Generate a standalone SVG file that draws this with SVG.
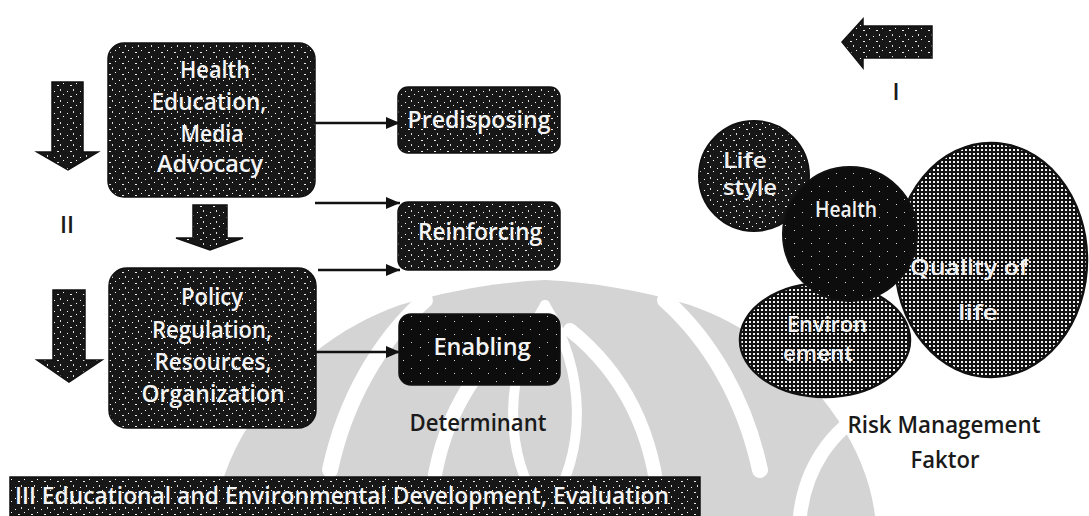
<svg xmlns="http://www.w3.org/2000/svg" width="1089" height="516" viewBox="0 0 1089 516">
<defs>
<pattern id="speck" width="13" height="11" patternUnits="userSpaceOnUse">
<rect width="13" height="11" fill="#171717"/>
<rect x="2" y="3" width="1" height="1" fill="#fff"/>
<rect x="8" y="1" width="1" height="2" fill="#ddd"/>
<rect x="5" y="8" width="2" height="1" fill="#eee"/>
<rect x="11" y="6" width="1" height="1" fill="#fff"/>
</pattern>
<pattern id="speck2" width="17" height="13" patternUnits="userSpaceOnUse">
<rect width="17" height="13" fill="#0d0d0d"/>
<rect x="3" y="4" width="1" height="1" fill="#ccc"/>
<rect x="12" y="9" width="1" height="1" fill="#ddd"/>
</pattern>
<pattern id="grid" width="4" height="4" patternUnits="userSpaceOnUse">
<rect width="4" height="4" fill="#111"/>
<rect x="1" y="1" width="2" height="2" fill="#f2f2f2"/>
</pattern>
<marker id="ah" viewBox="0 0 14 12" refX="14" refY="6" markerWidth="14" markerHeight="12" markerUnits="userSpaceOnUse" orient="auto">
<path d="M0,0 L14,6 L0,12 Z" fill="#111"/>
</marker>
</defs>
<style>
.box{fill:url(#speck);stroke:#111;stroke-width:1.5}
.bt{font-family:"Open Sans","Liberation Sans",sans-serif;font-size:24px;font-weight:600;fill:#f4f4f4;text-anchor:middle}
.ct{font-family:"Open Sans","Liberation Sans",sans-serif;font-size:21px;font-weight:600;fill:#f0f0f0;text-anchor:middle}
.lbl{font-family:"Open Sans","Liberation Sans",sans-serif;font-size:23px;font-weight:600;fill:#1a1a1a;text-anchor:middle}
.conn{stroke:#111;stroke-width:2.5;fill:none;marker-end:url(#ah)}
.wm{fill:none;stroke:#fff;stroke-linecap:round}
</style>
<rect width="1089" height="516" fill="#fff"/>

<g id="watermark">
<path d="M215,516 C225,430 300,340 400,305 C450,290 500,282 545,280 C590,282 640,290 690,305 C790,340 865,430 875,516 Z" fill="#d4d4d4"/>
<path class="wm" stroke-width="16" d="M330,470 C345,400 380,340 425,300"/>
<path class="wm" stroke-width="16" d="M760,470 C745,400 710,340 665,300"/>
<path class="wm" stroke-width="14" d="M430,516 C435,430 470,370 520,330"/>
<path class="wm" stroke-width="14" d="M660,516 C655,430 620,370 570,330"/>
<path class="wm" stroke-width="10" d="M545,305 C505,370 500,450 545,516"/>
<path class="wm" stroke-width="10" d="M545,305 C585,370 590,450 545,516"/>
<path class="wm" stroke-width="14" d="M800,516 C805,470 830,430 870,410"/>
</g>

<g id="arrow-left-1"><polygon points="52,82 83,82 83,152 98,152 68,170 37,152 52,152" class="box"/></g>
<g id="label-II"><text x="67" y="233" class="lbl" font-size="21">II</text></g>
<g id="arrow-left-2"><polygon points="53,290 85,290 85,360 102,360 69,382 37,360 53,360" class="box"/></g>
<g id="arrow-mid"><polygon points="193,205 227,205 227,238 243,238 210,250 176,238 193,238" class="box"/></g>

<g id="node-health-education">
<rect x="108" y="43" width="207" height="154" rx="16" class="box"/>
<text x="215" y="78" class="bt" textLength="70" lengthAdjust="spacingAndGlyphs">Health</text>
<text x="209" y="110" class="bt" textLength="115" lengthAdjust="spacingAndGlyphs">Education,</text>
<text x="212" y="142" class="bt" textLength="63" lengthAdjust="spacingAndGlyphs">Media</text>
<text x="210" y="172" class="bt" textLength="106" lengthAdjust="spacingAndGlyphs">Advocacy</text>
</g>

<g id="node-policy">
<rect x="109" y="268" width="207" height="160" rx="18" class="box"/>
<text x="212" y="305" class="bt" textLength="62" lengthAdjust="spacingAndGlyphs">Policy</text>
<text x="212" y="338" class="bt" textLength="120" lengthAdjust="spacingAndGlyphs">Regulation,</text>
<text x="213" y="370" class="bt" textLength="117" lengthAdjust="spacingAndGlyphs">Resources,</text>
<text x="213" y="402" class="bt" textLength="143" lengthAdjust="spacingAndGlyphs">Organization</text>
</g>

<g id="node-predisposing">
<rect x="398" y="87" width="162" height="66" rx="10" class="box"/>
<text x="479" y="128" class="bt" textLength="143" lengthAdjust="spacingAndGlyphs">Predisposing</text>
</g>
<g id="node-reinforcing">
<rect x="398" y="202" width="162" height="68" rx="10" class="box"/>
<text x="480" y="240" class="bt" textLength="124" lengthAdjust="spacingAndGlyphs">Reinforcing</text>
</g>
<g id="node-enabling">
<rect x="399" y="314" width="161" height="71" rx="12" fill="url(#speck2)" stroke="#111" stroke-width="1.5"/>
<text x="482" y="355" class="bt" textLength="97" lengthAdjust="spacingAndGlyphs">Enabling</text>
</g>
<g id="label-determinant"><text x="478" y="431" class="lbl" textLength="137" lengthAdjust="spacingAndGlyphs">Determinant</text></g>

<g id="connectors">
<line x1="315" y1="123" x2="400" y2="123" class="conn"/>
<line x1="315" y1="203" x2="400" y2="203" class="conn"/>
<line x1="318" y1="270" x2="400" y2="270" class="conn"/>
<line x1="316" y1="352" x2="400" y2="352" class="conn"/>
</g>

<g id="node-banner">
<rect x="10" y="477" width="690" height="39" class="box"/>
<text x="15" y="504" class="bt" style="text-anchor:start" font-size="23" textLength="654" lengthAdjust="spacingAndGlyphs">III Educational and Environmental Development, Evaluation</text>
</g>

<g id="arrow-right"><polygon points="932,26 863,26 863,19 842,42 863,68 863,58 932,58" class="box"/></g>
<g id="label-I"><text x="896" y="100" class="lbl" font-size="21">I</text></g>

<g id="node-lifestyle">
<circle cx="754" cy="176" r="55" fill="url(#speck)" stroke="#111" stroke-width="2"/>
<text x="745" y="168" class="ct" textLength="44" lengthAdjust="spacingAndGlyphs">Life</text>
<text x="750" y="195" class="ct" textLength="54" lengthAdjust="spacingAndGlyphs">style</text>
</g>
<g id="node-quality">
<ellipse cx="991" cy="260" rx="96" ry="117" fill="url(#grid)" stroke="#111" stroke-width="2.5"/>
</g>
<g id="node-environment">
<ellipse cx="825" cy="340" rx="85" ry="57" fill="url(#grid)" stroke="#111" stroke-width="2.5"/>
<text x="827" y="332" class="ct" textLength="80" lengthAdjust="spacingAndGlyphs">Environ</text>
<text x="818" y="361" class="ct" textLength="70" lengthAdjust="spacingAndGlyphs">ement</text>
</g>
<g id="node-health">
<circle cx="850" cy="234" r="67" fill="url(#speck2)" stroke="#111" stroke-width="2"/>
<text x="846" y="217" class="ct" textLength="62" lengthAdjust="spacingAndGlyphs">Health</text>
</g>
<g id="quality-text">
<text x="969" y="275" class="ct" textLength="118" lengthAdjust="spacingAndGlyphs">Quality of</text>
<text x="978" y="320" class="ct" textLength="40" lengthAdjust="spacingAndGlyphs">life</text>
</g>
<g id="label-risk">
<text x="944" y="433" class="lbl" textLength="193" lengthAdjust="spacingAndGlyphs">Risk Management</text>
<text x="945" y="468" class="lbl" textLength="69" lengthAdjust="spacingAndGlyphs">Faktor</text>
</g>
</svg>
